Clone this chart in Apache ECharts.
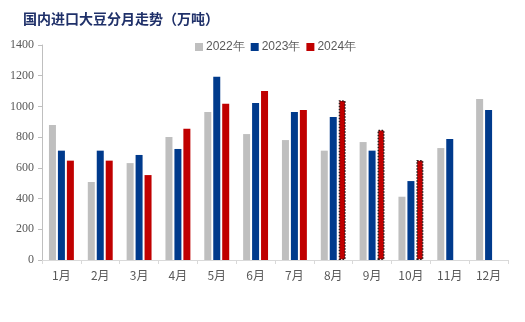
<!DOCTYPE html>
<html><head><meta charset="utf-8">
<script src="https://cdn.jsdelivr.net/npm/echarts@6/dist/echarts.min.js"></script>
<style>html,body{margin:0;padding:0;background:#fff}#c{width:525px;height:322px}</style>
</head><body><div id="c"></div>
<script>
const categories = ['1月','2月','3月','4月','5月','6月','7月','8月','9月','10月','11月','12月'];
const yearNames = ['2022年','2023年','2024年'];
const v2022 = [879, 508, 631, 801, 964, 820, 781, 712, 768, 412, 729, 1048];
const v2023 = [712, 712, 684, 723, 1194, 1022, 964, 931, 712, 514, 788, 977];
const v2024 = [647, 647, 553, 855, 1018, 1100, 977, 1040, 848, 651, null, null];
const forecastIdx = [7, 8, 9];
const yTicks = [0, 1400, 200];

const colors = ['#BFBFBF', '#003A8C', '#C00000'];
const chart = echarts.init(document.getElementById('c'));
const data2024 = v2024.map((v, i) => forecastIdx.includes(i)
  ? {value: v, itemStyle: {borderColor: '#2b1a1a', borderWidth: 1.5, borderType: 'dotted'}}
  : v);
chart.setOption({
  animation: false,
  title: {
    text: '国内进口大豆分月走势（万吨）', left: 18, top: 7,
    textStyle: {fontFamily: 'Noto Sans CJK SC', fontWeight: 'bold', fontSize: 14, color: '#1F3069'}
  },
  legend: {
    left: 190, top: 36, itemWidth: 8, itemHeight: 8, itemGap: 6,
    icon: 'rect',
    textStyle: {fontSize: 12, color: '#595959', fontFamily: 'Liberation Sans', padding: [0,0,0,-2]},
    data: yearNames
  },
  grid: {left: 42, right: 17, top: 45, bottom: 62},
  xAxis: {
    type: 'category', data: categories,
    axisLine: {lineStyle: {color: '#D9D9D9'}},
    axisTick: {show: true, length: 4, lineStyle: {color: '#D9D9D9'}},
    axisLabel: {color: '#595959', fontSize: 12, margin: 9, fontFamily: 'Noto Sans CJK SC'}
  },
  yAxis: {
    type: 'value', min: yTicks[0], max: yTicks[1], interval: yTicks[2],
    axisLine: {show: true, lineStyle: {color: '#BFBFBF'}},
    axisTick: {show: true, length: 4, lineStyle: {color: '#BFBFBF'}},
    splitLine: {show: false},
    axisLabel: {color: '#595959', fontSize: 12, margin: 8, fontFamily: 'Liberation Serif', formatter: v => String(v)}
  },
  series: [
    {name: yearNames[0], type: 'bar', data: v2022, barWidth: 7, barGap: '28%', itemStyle: {color: colors[0]}},
    {name: yearNames[1], type: 'bar', data: v2023, barWidth: 7, barGap: '28%', itemStyle: {color: colors[1]}},
    {name: yearNames[2], type: 'bar', data: data2024, barWidth: 7, barGap: '28%', itemStyle: {color: colors[2]}}
  ]
});
</script></body></html>
